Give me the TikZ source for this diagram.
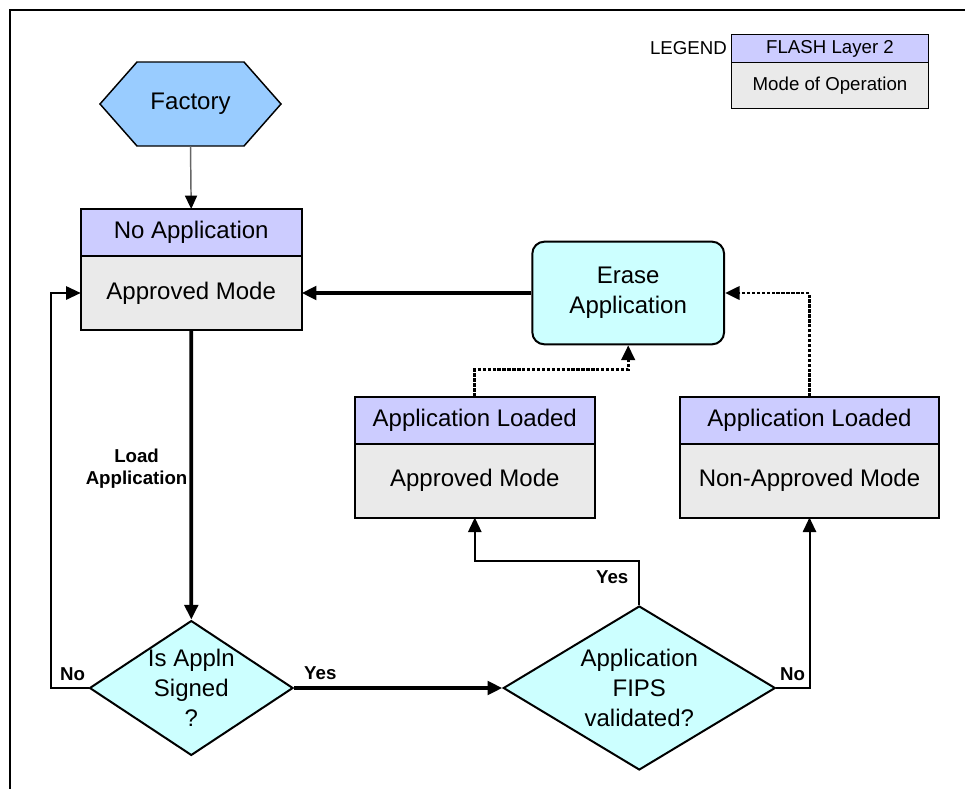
\documentclass[tikz,border=0pt]{standalone}
\usepackage{fontspec}
\setmainfont{Liberation Sans}
\usetikzlibrary{shapes.geometric, positioning, arrows.meta, backgrounds}

\definecolor{layerblue}{HTML}{CCCCFF}
\definecolor{modegray}{HTML}{EAEAEA}
\definecolor{factoryblue}{HTML}{99CCFF}
\definecolor{paleaqua}{HTML}{CCFFFF}

\tikzset{
    every node/.style={font=\fontsize{18}{22.5}\selectfont},
    layer/.style={draw, line width=1.5pt, fill=layerblue, outer sep=0pt, inner sep=0pt, minimum height=35.25pt},
    mode/.style={draw, line width=1.5pt, fill=modegray, outer sep=0pt, inner sep=0pt, minimum height=55.5pt},
    decision/.style={diamond, draw, line width=1.5pt, fill=paleaqua, inner sep=0pt, align=center},
    action/.style={rectangle, rounded corners=9pt, draw, line width=1.5pt, fill=paleaqua, align=center},
    lbl/.style={font=\fontsize{14}{16.5}\selectfont\bfseries, inner sep=1.5pt, align=center},
    legendtext/.style={font=\fontsize{14}{16.5}\selectfont},
    tip/.style={-{Triangle[length=11pt,width=10pt]}},
    flow/.style={tip, line width=1.5pt},
    mainflow/.style={tip, line width=2.8pt},
    eraseflow/.style={tip, line width=2.2pt, dash pattern=on 2.5pt off 1.2pt},
}

\begin{document}
\begin{tikzpicture}[x=0.75pt, y=-0.75pt]
    \useasboundingbox (0,0) rectangle (965,789);

    % page frame
    \draw[line width=1.5pt] (965,10) -- (10,10) -- (10,789);

    % legend
    \node[layer, legendtext, line width=0.75pt, minimum width=147.45pt, minimum height=21.3pt] (lghead) at (830,48.5) {FLASH Layer 2};
    \node[mode, legendtext, line width=0.75pt, minimum width=147.45pt, minimum height=34.7pt, below=0pt of lghead] (lgmode) {Mode of Operation};
    \node[legendtext, inner sep=1.5pt, left=2pt of lghead] (lgtitle) {LEGEND};

    % start
    \node[outer sep=0pt, minimum width=135.75pt, minimum height=63pt] (factory) at (190.5,104) {Factory};
    \begin{scope}[on background layer]
        \filldraw[fill=factoryblue, line width=1.1pt]
            (factory.west) -- ([xshift=27.75pt]factory.north west) -- ([xshift=-27.75pt]factory.north east)
            -- (factory.east) -- ([xshift=-27.75pt]factory.south east) -- ([xshift=27.75pt]factory.south west) -- cycle;
    \end{scope}

    % states
    \node[layer, minimum width=165.75pt] (noapphead) at (191.2,232.5) {No Application};
    \node[mode, minimum width=165.75pt, below=0pt of noapphead] (noapp) {Approved Mode};

    \node[action, minimum width=143.8pt, minimum height=77pt] (erase) at (628.2,293) {Erase\\Application};

    \node[layer, minimum width=180.3pt] (okhead) at (474.8,420) {Application Loaded};
    \node[mode, minimum width=180.3pt, below=0pt of okhead] (okmode) {Approved Mode};
    \node[layer, minimum width=194.25pt] (nahead) at (809.5,420) {Application Loaded};
    \node[mode, minimum width=194.25pt, below=0pt of nahead] (namode) {Non-Approved Mode};

    % decisions
    \node[decision, aspect=1.51, minimum width=152pt, minimum height=100.5pt] (signed) at (191.3,688) {Is Appln\\Signed\\?};
    \node[decision, aspect=1.66, minimum width=204pt, minimum height=123pt] (fips) at (639.3,688) {Application\\FIPS\\validated?};

    % connectors
    \draw[-{Triangle[length=10pt,width=9pt,color=black]}, draw=black!60, line width=1.1pt] (factory.south) -- (noapphead.north);
    \draw[mainflow] (noapp.south) -- node[lbl, left, pos=0.48] {Load\\Application} (signed.north);
    \draw[flow] (signed.west) -- node[lbl, above=3pt, pos=0.43] {No} ++(-37.3,0) |- (noapp.west);
    \draw[mainflow] (signed.east) -- node[lbl, above=3pt, pos=0.126] {Yes} (fips.west);
    \draw[flow] (fips.north) -- node[lbl, left=6pt, pos=0.64] {Yes} ++(0,-44) -| (okmode.south);
    \draw[flow] (fips.east) -| node[lbl, above=3pt, pos=0.246] {No} (namode.south);
    \draw[mainflow] (erase.west) -- (noapp.east);
    \draw[eraseflow] (okhead.north) -- ++(0,-26.7) -| (erase.south);
    \draw[eraseflow] (nahead.north) |- (erase.east);
\end{tikzpicture}
\end{document}
